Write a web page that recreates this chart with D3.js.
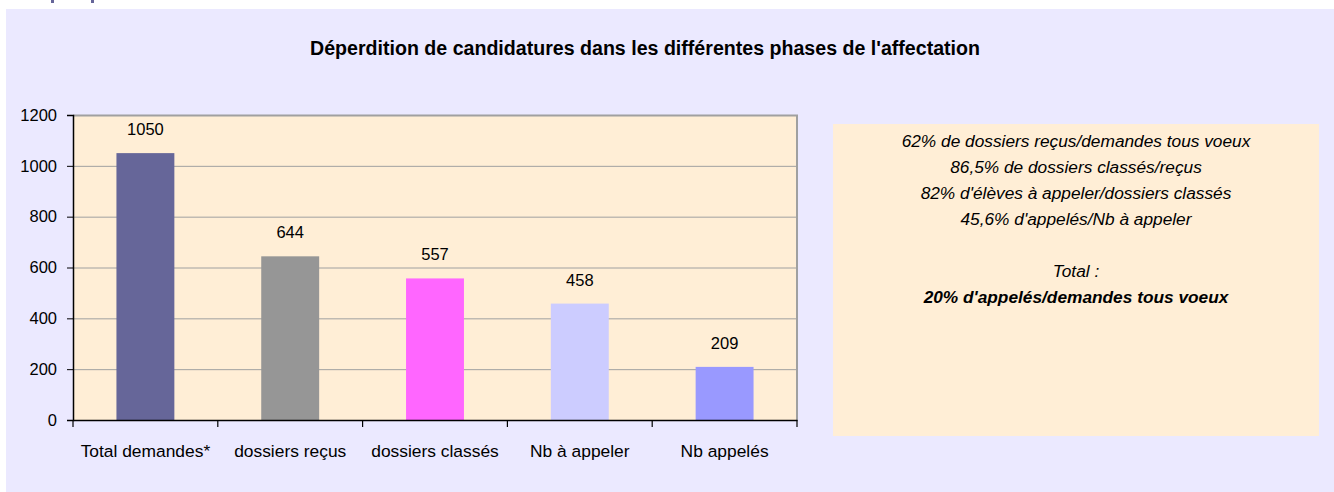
<!DOCTYPE html>
<html>
<head>
<meta charset="utf-8">
<script src="https://cdn.jsdelivr.net/npm/d3@7"></script>
<style>
  html, body { margin:0; padding:0; background:#fff; }
  svg { display:block; font-family: "Liberation Sans", Arial, sans-serif; }
</style>
</head>
<body>
<svg id="chart" width="1334" height="492"></svg>
<script>
const categories = ['Total demandes*', 'dossiers reçus', 'dossiers classés', 'Nb à appeler', 'Nb appelés'];
const values = [1050, 644, 557, 458, 209];
const barColors = ['#666699', '#969696', '#FF66FF', '#CCCCFF', '#9999FF'];
const yTicks = [0, 200, 400, 600, 800, 1000, 1200];
const title = "Déperdition de candidatures dans les différentes phases de l'affectation";
const noteLines = [
  {t: '62% de dossiers reçus/demandes tous voeux', bold: false},
  {t: '86,5% de dossiers classés/reçus', bold: false},
  {t: "82% d'élèves à appeler/dossiers classés", bold: false},
  {t: "45,6% d'appelés/Nb à appeler", bold: false},
  {t: '', bold: false},
  {t: 'Total :', bold: false},
  {t: "20% d'appelés/demandes tous voeux", bold: true}
];

const svg = d3.select('#chart');
const W = 1334, H = 492;
const FONT = '"Liberation Sans", Arial, sans-serif';

// outer panel
svg.append('rect').attr('x', 6).attr('y', 9).attr('width', W - 6).attr('height', H - 9).attr('fill', '#EBE9FF');
// clipped bits of something above
svg.append('rect').attr('x', 51).attr('y', 0).attr('width', 3).attr('height', 3).attr('fill', '#666699');
svg.append('rect').attr('x', 91).attr('y', 0).attr('width', 3).attr('height', 3).attr('fill', '#666699');

svg.append('text')
  .attr('x', 645).attr('y', 55)
  .attr('text-anchor', 'middle')
  .attr('font-size', 19.6).attr('font-weight', 'bold')
  .attr('fill', '#000')
  .text(title);

const plot = {left: 73, top: 115, right: 797, bottom: 420};

const x = d3.scaleBand().domain(categories).range([plot.left, plot.right]).paddingInner(0.6).paddingOuter(0.3);
const xb = d3.scaleBand().domain(categories).range([plot.left, plot.right]);
const y = d3.scaleLinear().domain([0, 1200]).range([plot.bottom, plot.top]);

// plot background
svg.append('rect')
  .attr('x', plot.left).attr('y', plot.top)
  .attr('width', plot.right - plot.left).attr('height', plot.bottom - plot.top)
  .attr('fill', '#FFEED6');

// gridlines
svg.append('g').selectAll('line').data(yTicks.filter(d => d > 0 && d < 1200)).enter()
  .append('line')
  .attr('x1', plot.left).attr('x2', plot.right)
  .attr('y1', d => y(d) + 0.5).attr('y2', d => y(d) + 0.5)
  .attr('stroke', '#A0A0A0').attr('stroke-width', 1);

// top & right border (grey)
svg.append('line').attr('x1', plot.left).attr('x2', plot.right + 1)
  .attr('y1', plot.top + 0.5).attr('y2', plot.top + 0.5)
  .attr('stroke', '#A0A0A0').attr('stroke-width', 2);
svg.append('line').attr('x1', plot.right).attr('x2', plot.right)
  .attr('y1', plot.top).attr('y2', plot.bottom)
  .attr('stroke', '#A0A0A0').attr('stroke-width', 2);

// bars
svg.append('g').selectAll('rect').data(values).enter()
  .append('rect')
  .attr('x', (d, i) => x(categories[i]))
  .attr('width', x.bandwidth())
  .attr('y', d => y(d))
  .attr('height', d => y(0) - y(d))
  .attr('fill', (d, i) => barColors[i]);

// value labels
svg.append('g').selectAll('text').data(values).enter()
  .append('text')
  .attr('x', (d, i) => x(categories[i]) + x.bandwidth() / 2)
  .attr('y', d => y(d) - 18)
  .attr('text-anchor', 'middle')
  .attr('font-size', 16.5)
  .attr('fill', '#000')
  .text(d => d);

// y axis
const yAxis = svg.append('g')
  .attr('transform', 'translate(' + plot.left + ',0)')
  .call(d3.axisLeft(y).tickValues(yTicks).tickSize(6).tickPadding(10).tickFormat(d3.format('d')));
yAxis.select('.domain').attr('stroke', '#000').attr('stroke-width', 1.5);
yAxis.selectAll('.tick line').attr('stroke', '#000');
yAxis.selectAll('text').attr('font-size', 16.5).attr('fill', '#000').attr('font-family', FONT);

// x axis
const xAxis = svg.append('g')
  .attr('transform', 'translate(0,' + plot.bottom + ')')
  .call(d3.axisBottom(xb).tickSize(0).tickPadding(25));
xAxis.select('.domain').attr('stroke', '#000').attr('stroke-width', 1.5);
xAxis.selectAll('text').attr('font-size', 17.4).attr('fill', '#000').attr('font-family', FONT);
// category separator ticks
const sepX = categories.map(c => xb(c)).concat([plot.right]);
svg.append('g').selectAll('line').data(sepX).enter()
  .append('line')
  .attr('x1', d => d).attr('x2', d => d)
  .attr('y1', plot.bottom).attr('y2', plot.bottom + 7)
  .attr('stroke', '#000').attr('stroke-width', 1.2);

// note box
svg.append('rect').attr('x', 833).attr('y', 124).attr('width', 486).attr('height', 312).attr('fill', '#FFEED6');
svg.append('g').selectAll('text').data(noteLines).enter()
  .append('text')
  .attr('x', 1076)
  .attr('y', (d, i) => 147 + i * 26)
  .attr('text-anchor', 'middle')
  .attr('font-size', 17.3)
  .attr('font-style', 'italic')
  .attr('font-weight', d => d.bold ? 'bold' : 'normal')
  .attr('fill', '#000')
  .text(d => d.t);
</script>
</body>
</html>
